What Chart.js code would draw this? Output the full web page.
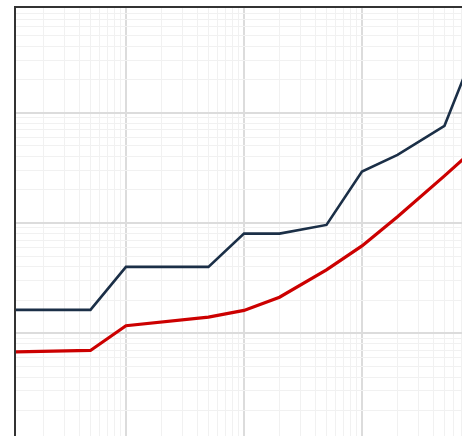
<!DOCTYPE html>
<html>
<head>
<meta charset="utf-8">
<style>
  html, body { margin: 0; padding: 0; background: #fff; }
  #wrap { width: 462px; height: 436px; }
</style>
<script src="https://cdn.jsdelivr.net/npm/chart.js@4/dist/chart.umd.min.js"></script>
</head>
<body>
<div id="wrap"><canvas id="chart"></canvas></div>
<script>
// data (log-log)
const xValues    = [0.1, 0.5, 1, 5, 10, 20, 50, 100, 200, 500, 1000];
const observed   = [1.63, 1.63, 4.0, 4.0, 8.0, 8.0, 9.6, 29.2, 41.4, 76, 490];
const fitted     = [0.674, 0.698, 1.17, 1.4, 1.61, 2.12, 3.75, 6.19, 11.4, 26.7, 51.9];

// visible axis window (plot is cut at right and bottom)
const xRange = [0.1147, 704];
const yRange = [0.117, 908];

function points(ys){
  return xValues.map((x, i) => ({x: x, y: ys[i]}));
}

function isMajor(v){
  const l = Math.log10(v);
  return Math.abs(l - Math.round(l)) < 1e-9;
}

// grid at 1..9 x 10^k
function logTicks(scale){
  const out = [];
  for(let k = -3; k <= 4; k++){
    for(let n = 1; n <= 9; n++){
      const v = n * Math.pow(10, k);
      if(v >= scale.min && v <= scale.max) out.push({value: v, major: n === 1});
    }
  }
  scale.ticks = out;
}

const gridOpts = {
  color: c => (c.tick && isMajor(c.tick.value)) ? '#dcdcdc' : '#f1f1f1',
  lineWidth: c => (c.tick && isMajor(c.tick.value)) ? 2 : 1,
  drawTicks: false
};

new Chart(document.getElementById('chart'), {
  type: 'line',
  data: {
    datasets: [
      {
        data: points(observed),
        borderColor: '#1b2f47',
        borderWidth: 2.6,
        pointRadius: 0,
        tension: 0,
        clip: {left: -1, top: -1, right: 0, bottom: 0}
      },
      {
        data: points(fitted),
        borderColor: '#cc0000',
        borderWidth: 3.2,
        pointRadius: 0,
        tension: 0,
        clip: {left: -1, top: -1, right: 0, bottom: 0}
      }
    ]
  },
  options: {
    responsive: true,
    maintainAspectRatio: false,
    animation: false,
    layout: { padding: 0 },
    plugins: { legend: { display: false }, tooltip: { enabled: false } },
    scales: {
      x: {
        type: 'logarithmic',
        position: 'bottom',
        min: xRange[0],
        max: xRange[1],
        ticks: { display: false },
        grid: gridOpts,
        border: { display: false },
        afterBuildTicks: logTicks,
        afterFit: s => { s.height = 0; }
      },
      xTop: {
        type: 'linear',
        position: 'top',
        min: 0,
        max: 1,
        ticks: { display: false },
        grid: { display: false, drawTicks: false },
        border: { display: true, color: '#333333', width: 2 },
        afterFit: s => { s.height = 7; }
      },
      y: {
        type: 'logarithmic',
        position: 'left',
        min: yRange[0],
        max: yRange[1],
        ticks: { display: false },
        grid: gridOpts,
        border: { display: true, color: '#333333', width: 2 },
        afterBuildTicks: logTicks,
        afterFit: s => { s.width = 15; }
      }
    }
  }
});
</script>
</body>
</html>
